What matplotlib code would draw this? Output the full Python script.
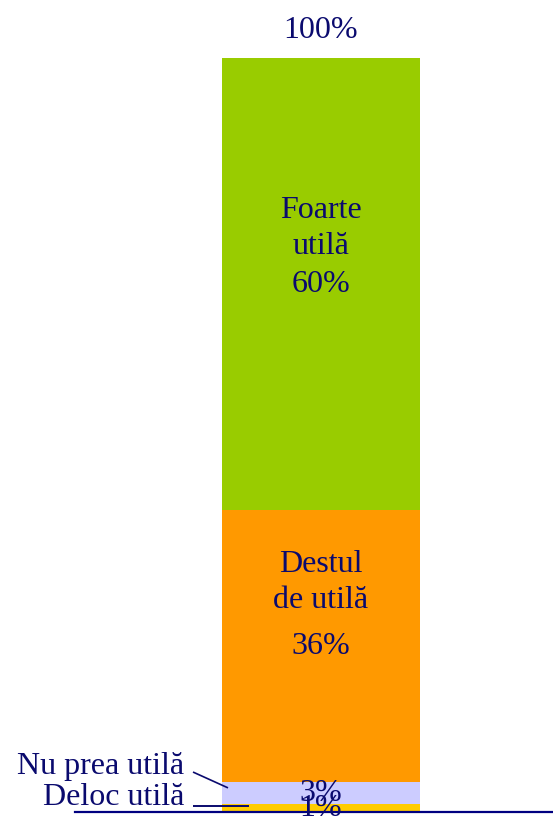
import matplotlib
matplotlib.use("Agg")
import matplotlib.pyplot as plt

categories = ["Deloc utilă", "Nu prea utilă", "Destul\nde utilă", "Foarte\nutilă"]
values = [1, 3, 36, 60]
colors = ["#FFCC00", "#CCCCFF", "#FF9900", "#99CC00"]
total_label = "100%"

navy = "#0A0A6E"
plt.rcParams['font.family'] = ['Liberation Serif', 'DejaVu Serif']

W, H = 553, 816
fig = plt.figure(figsize=(W / 100, H / 100), dpi=100)
ax = fig.add_axes([0, 4 / H, 1, 754 / H])
ax.set_xlim(0, W)
ax.set_ylim(0, 100)
ax.axis("off")

bx, bw = 321, 198
bottom = 0
centers = []
for v, c in zip(values, colors):
    ax.bar(bx, v, width=bw, bottom=bottom, color=c, edgecolor="none")
    centers.append(bottom + v / 2)
    bottom += v

fs = 23
for i, (cat, v, cy) in enumerate(zip(categories, values, centers)):
    ax.text(bx, cy, f"{v}%", ha="center", va="center", fontsize=fs, color=navy, clip_on=False)

# inside names
ax.annotate(categories[3], (bx, centers[3]), xytext=(0, 40), textcoords="offset points",
            ha="center", va="center", fontsize=fs, color=navy, linespacing=1.3)
ax.annotate(categories[2], (bx, centers[2]), xytext=(0, 46), textcoords="offset points",
            ha="center", va="center", fontsize=fs, color=navy, linespacing=1.3)

# outside labels with leader lines
ax.text(184, 6.0, categories[1], ha="right", va="center", fontsize=fs, color=navy)
ax.plot([193, 228], [5.3, 3.2], color=navy, lw=1.2, solid_capstyle="butt")
ax.text(184, 1.9, categories[0], ha="right", va="center", fontsize=fs, color=navy)
ax.plot([193, 249], [0.8, 0.8], color=navy, lw=1.4, solid_capstyle="butt")

# total label
ax.annotate(total_label, (bx, bottom), xytext=(0, 20), textcoords="offset points",
            ha="center", va="center", fontsize=fs, color=navy)

# baseline
ax.axhline(0, xmin=75 / W, xmax=1, color="#000080", lw=1.6, clip_on=False)

fig.savefig("out.png", dpi=100)
